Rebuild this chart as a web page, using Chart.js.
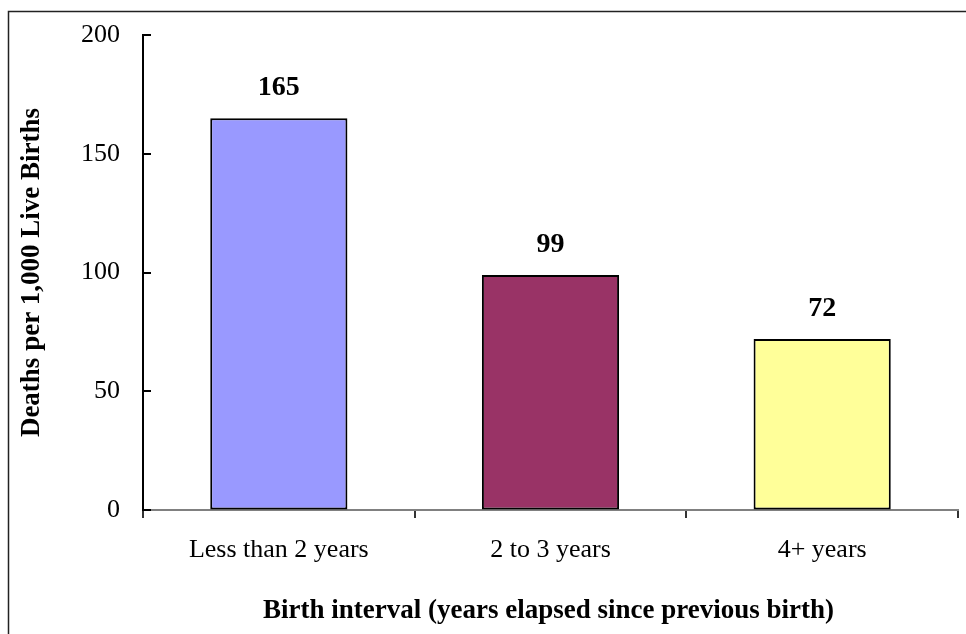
<!DOCTYPE html>
<html>
<head>
<meta charset="utf-8">
<script src="https://cdn.jsdelivr.net/npm/chart.js@4.4.1/dist/chart.umd.min.js"></script>
<style>
html,body{margin:0;padding:0;background:#fff;}
#wrap{position:relative;width:966px;height:634px;}
</style>
</head>
<body>
<div id="wrap"><canvas id="c" width="966" height="634"></canvas></div>
<script>
const categories = ["Less than 2 years", "2 to 3 years", "4+ years"];
const deaths = [165, 99, 72];
const barColors = ["#9999FF", "#993366", "#FFFF99"];
const yTicks = [0, 50, 100, 150, 200];
const yTitle = "Deaths per 1,000 Live Births";
const xTitle = "Birth interval (years elapsed since previous birth)";

const FONT = "'Liberation Serif', 'Times New Roman', serif";

const decor = {
  id: 'decor',
  beforeDraw(chart) {
    const ctx = chart.ctx;
    ctx.save();
    ctx.fillStyle = '#fff';
    ctx.fillRect(0, 0, chart.width, chart.height);
    ctx.strokeStyle = '#222';
    ctx.lineWidth = 1.5;
    ctx.beginPath();
    ctx.moveTo(8.5, chart.height);
    ctx.lineTo(8.5, 11.5);
    ctx.lineTo(chart.width, 11.5);
    ctx.stroke();
    ctx.restore();
  },
  afterDraw(chart) {
    const ctx = chart.ctx;
    const y = chart.scales.y;
    const area = chart.chartArea;
    ctx.save();
    ctx.strokeStyle = '#000';
    ctx.lineWidth = 2;
    y.ticks.forEach(t => {
      const py = Math.round(y.getPixelForValue(t.value));
      ctx.beginPath();
      ctx.moveTo(area.left, py);
      ctx.lineTo(area.left + 8, py);
      ctx.stroke();
    });
    ctx.fillStyle = '#000';
    ctx.font = "bold 28px " + FONT;
    ctx.textAlign = 'center';
    ctx.textBaseline = 'middle';
    const meta = chart.getDatasetMeta(0);
    meta.data.forEach((bar, i) => {
      ctx.fillText(String(deaths[i]), bar.x, bar.y - 30);
    });
    ctx.font = "bold 27px " + FONT;
    ctx.fillText(xTitle, (area.left + area.right) / 2 - 2, 611);
    ctx.translate(32, (area.top + area.bottom) / 2);
    ctx.rotate(-Math.PI / 2);
    ctx.fillText(yTitle, 0, 0);
    ctx.restore();
  }
};

new Chart(document.getElementById('c'), {
  type: 'bar',
  data: {
    labels: categories,
    datasets: [{
      data: deaths,
      backgroundColor: barColors,
      borderColor: '#000',
      borderWidth: 2,
      borderSkipped: false,
      barPercentage: 0.505,
      categoryPercentage: 1.0
    }]
  },
  options: {
    responsive: false,
    animation: false,
    devicePixelRatio: 1,
    layout: { padding: { left: 0, right: 8, top: 35, bottom: 0 } },
    plugins: { legend: { display: false }, tooltip: { enabled: false } },
    scales: {
      x: {
        grid: { offset: true, drawOnChartArea: false, drawTicks: true, tickLength: 8, color: '#333', lineWidth: 2 },
        border: { display: true, color: '#808080', width: 2 },
        ticks: { color: '#000', font: { family: FONT, size: 26 }, padding: 17, maxRotation: 0, autoSkip: false },
        afterFit(scale) { scale.height = 124; scale.paddingLeft = 0; scale.paddingRight = 0; }
      },
      y: {
        min: 0, max: 200,
        afterBuildTicks(scale) { scale.ticks = yTicks.map(v => ({ value: v })); },
        grid: { drawOnChartArea: false, drawTicks: false },
        border: { display: true, color: '#000', width: 2 },
        ticks: { color: '#000', font: { family: FONT, size: 26 }, padding: 23 },
        afterFit(scale) { scale.width = 143; scale.paddingTop = 0; scale.paddingBottom = 0; }
      }
    }
  },
  plugins: [decor]
});
</script>
</body>
</html>
